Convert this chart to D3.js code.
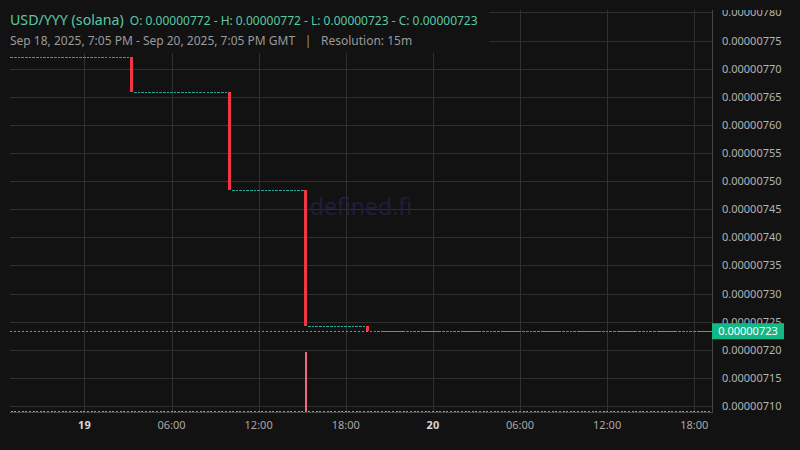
<!DOCTYPE html>
<html>
<head>
<meta charset="utf-8">
<script src="https://cdn.jsdelivr.net/npm/d3@7"></script>
<style>
  body { margin: 0; background: #121212; }
  text { font-family: "Noto Sans", sans-serif; }
</style>
</head>
<body>
<div id="chart"></div>
<script>
// prices are in units of 1e-8
const PRICE_UNIT = 1e-8;
const firstCandle = new Date(Date.UTC(2025, 8, 18, 19, 0));
const rangeStart = new Date(Date.UTC(2025, 8, 18, 19, 5));
const rangeEnd = new Date(Date.UTC(2025, 8, 20, 19, 5));
const resolutionMin = 15;

// close of each 15m candle, Sep 18 19:00 -> Sep 20 19:00
const closes = [
  772, 772, 772, 772, 772, 772, 772, 772, 772, 772, 772,
  772, 772, 772, 772, 772, 772, 772, 772, 772, 772, 772,
  772, 772, 772, 772, 772, 772, 772, 772, 772, 772, 772,
  765.8, 765.8, 765.8, 765.8, 765.8, 765.8, 765.8, 765.8, 765.8,
  765.8, 765.8, 765.8, 765.8, 765.8, 765.8, 765.8, 765.8, 765.8,
  765.8, 765.8, 765.8, 765.8, 765.8, 765.8, 765.8, 765.8, 765.8,
  748.5, 748.5, 748.5, 748.5, 748.5, 748.5, 748.5,
  748.5, 748.5, 748.5, 748.5, 748.5, 748.5, 748.5,
  748.5, 748.5, 748.5, 748.5, 748.5, 748.5, 748.5,
  724.3, 724.3, 724.3, 724.3, 724.3, 724.3, 724.3, 724.3, 724.3,
  724.3, 724.3, 724.3, 724.3, 724.3, 724.3, 724.3, 724.3,
  723.3, 723.3, 723.3, 723.3, 723.3, 723.3, 723.3, 723.3, 723.3, 723.3, 723.3, 723.3, 723.3, 723.3, 723.3, 723.3, 723.3, 723.3, 723.3,
  723.3, 723.3, 723.3, 723.3, 723.3, 723.3, 723.3, 723.3, 723.3, 723.3, 723.3, 723.3, 723.3, 723.3, 723.3, 723.3, 723.3, 723.3, 723.3,
  723.3, 723.3, 723.3, 723.3, 723.3, 723.3, 723.3, 723.3, 723.3, 723.3, 723.3, 723.3, 723.3, 723.3, 723.3, 723.3, 723.3, 723.3, 723.3,
  723.3, 723.3, 723.3, 723.3, 723.3, 723.3, 723.3, 723.3, 723.3, 723.3, 723.3, 723.3, 723.3, 723.3, 723.3, 723.3, 723.3, 723.3, 723.3,
  723.3, 723.3, 723.3, 723.3, 723.3, 723.3, 723.3, 723.3, 723.3, 723.3, 723.3, 723.3, 723.3, 723.3, 723.3, 723.3, 723.3, 723.3, 723.3
];
const firstOpen = 772;

// volume per candle (relative)
const volumes = [
  1, 1, 1, 1, 1, 1, 1, 1, 1, 1, 1, 1, 1, 1, 1, 1, 1, 1, 1, 1, 1, 1, 1, 1, 1, 1, 1, 1, 1, 1, 1, 1, 1,
  1, 1, 1, 1, 1, 1, 1, 1, 1, 1, 1, 1, 1, 1, 1, 1, 1, 1, 1, 1, 1, 1, 1, 1, 1, 1, 1,
  1, 1, 1, 1, 1, 1, 1, 1, 1, 1, 1, 1, 1, 1, 1, 1, 1, 1, 1, 1, 1,
  60, 1, 1, 1, 1, 1, 1, 1, 1, 1, 1, 1, 1, 1, 1, 1, 1,
  1, 1, 1, 1, 1, 1, 1, 1, 1, 1, 1, 1, 1, 1, 1, 1, 1, 1, 1,
  1, 1, 1, 1, 1, 1, 1, 1, 1, 1, 1, 1, 1, 1, 1, 1, 1, 1, 1,
  1, 1, 1, 1, 1, 1, 1, 1, 1, 1, 1, 1, 1, 1, 1, 1, 1, 1, 1,
  1, 1, 1, 1, 1, 1, 1, 1, 1, 1, 1, 1, 1, 1, 1, 1, 1, 1, 1,
  1, 1, 1, 1, 1, 1, 1, 1, 1, 1, 1, 1, 1, 1, 1, 1, 1, 1, 1
];

const priceTicks = [710, 715, 720, 725, 730, 735, 740, 745, 750, 755, 760, 765, 770, 775, 780];
const timeTicks = [
  new Date(Date.UTC(2025, 8, 19, 0)), new Date(Date.UTC(2025, 8, 19, 6)),
  new Date(Date.UTC(2025, 8, 19, 12)), new Date(Date.UTC(2025, 8, 19, 18)),
  new Date(Date.UTC(2025, 8, 20, 0)), new Date(Date.UTC(2025, 8, 20, 6)),
  new Date(Date.UTC(2025, 8, 20, 12)), new Date(Date.UTC(2025, 8, 20, 18))
];
const timeLabels = ["19", "06:00", "12:00", "18:00", "20", "06:00", "12:00", "18:00"];
const dayLabels = ["19", "20"];

const width = 800, height = 450;
const plot = {left: 10, right: 712, top: 10, bottom: 412};
const upColor = "#26a69a", downColor = "#f23645";

let candles = closes.map((c, i) => {
    let open = i === 0 ? firstOpen : closes[i - 1];
    return {
        time: new Date(firstCandle.getTime() + i * resolutionMin * 60000),
        open: open, close: c,
        high: Math.max(open, c), low: Math.min(open, c),
        volume: volumes[i]
    };
});

let fmt = v => (v * PRICE_UNIT).toFixed(8);

let x = d3.scaleTime().domain([rangeStart, rangeEnd]).range([13, 710]);
let y = d3.scaleLinear().domain([710, 780]).range([406, 12.4]);
let yVol = d3.scaleLinear().domain([0, 60]).range([plot.bottom, plot.bottom - 60]);

let svg = d3.select("#chart").append("svg")
    .attr("width", width)
    .attr("height", height)
    .style("display", "block");

svg.append("rect")
    .attr("width", width)
    .attr("height", height)
    .attr("fill", "#121212");

let defs = svg.append("defs");
defs.append("clipPath").attr("id", "plotClip").append("rect")
    .attr("x", plot.left).attr("y", plot.top)
    .attr("width", plot.right - plot.left).attr("height", plot.bottom - plot.top);
defs.append("clipPath").attr("id", "axisClip").append("rect")
    .attr("x", plot.right).attr("y", plot.top)
    .attr("width", width - plot.right).attr("height", plot.bottom - plot.top + 4);

// grid
let grid = svg.append("g").attr("clip-path", "url(#plotClip)");
grid.selectAll(".hgrid")
    .data(priceTicks)
    .enter().append("line")
    .attr("class", "hgrid")
    .attr("x1", plot.left).attr("x2", plot.right)
    .attr("y1", d => Math.round(y(d)) + 0.5).attr("y2", d => Math.round(y(d)) + 0.5)
    .attr("stroke", "#303030");
grid.selectAll(".vgrid")
    .data(timeTicks)
    .enter().append("line")
    .attr("class", "vgrid")
    .attr("y1", plot.top).attr("y2", plot.bottom)
    .attr("x1", d => Math.round(x(d)) + 0.5).attr("x2", d => Math.round(x(d)) + 0.5)
    .attr("stroke", "#303030");

// watermark
svg.append("text")
    .attr("x", 361).attr("y", 215)
    .attr("text-anchor", "middle")
    .attr("font-size", 23)
    .attr("fill", "#1e1e3c")
    .text("defined.fi");

let marks = svg.append("g").attr("clip-path", "url(#plotClip)");

// volume
marks.selectAll(".vol")
    .data(candles)
    .enter().append("rect")
    .attr("class", "vol")
    .attr("x", d => x(d.time) - 1)
    .attr("width", 2)
    .attr("y", d => yVol(d.volume))
    .attr("height", d => plot.bottom - yVol(d.volume))
    .attr("fill", d => d.close < d.open ? "#f26880" : "#3fbfa5")
    .attr("shape-rendering", "crispEdges");

// last price line
let last = candles[candles.length - 1].close;
marks.append("line")
    .attr("x1", plot.left).attr("x2", plot.right)
    .attr("y1", Math.round(y(last)) + 0.5).attr("y2", Math.round(y(last)) + 0.5)
    .attr("stroke", "#1abc9c")
    .attr("stroke-dasharray", "2,2");

// candles (flat candles are drawn as a 1px tick)
marks.selectAll(".candle")
    .data(candles)
    .enter().append("rect")
    .attr("class", "candle")
    .attr("x", d => x(d.time) - (d.open === d.close ? 1.3 : 1.5))
    .attr("width", d => d.open === d.close ? 2.6 : 3)
    .attr("y", d => d.open === d.close ? Math.round(y(d.close)) : y(d.high))
    .attr("height", d => d.open === d.close ? 1 : y(d.low) - y(d.high))
    .attr("fill", d => d.close < d.open ? downColor : upColor)
    .attr("shape-rendering", "crispEdges");

// frame
svg.append("line")
    .attr("x1", plot.right + 0.5).attr("x2", plot.right + 0.5)
    .attr("y1", plot.top).attr("y2", plot.bottom + 1)
    .attr("stroke", "#454545");
svg.append("line")
    .attr("x1", plot.left).attr("x2", plot.right)
    .attr("y1", plot.bottom + 0.5).attr("y2", plot.bottom + 0.5)
    .attr("stroke", "#454545");

// price axis labels
let axis = svg.append("g").attr("clip-path", "url(#axisClip)");
axis.selectAll(".plabel")
    .data(priceTicks)
    .enter().append("text")
    .attr("class", "plabel")
    .attr("x", 722)
    .attr("y", d => y(d) + 4)
    .attr("font-size", 11)
    .attr("fill", "#b4b4b4")
    .text(d => fmt(d));

// last price tag
axis.append("rect")
    .attr("x", plot.right).attr("y", y(last) - 8)
    .attr("width", 72).attr("height", 16)
    .attr("fill", "#12b886");
axis.append("text")
    .attr("x", 748).attr("y", y(last) + 4)
    .attr("text-anchor", "middle")
    .attr("font-size", 11)
    .attr("fill", "#ffffff")
    .text(fmt(last));

// time axis labels
svg.selectAll(".tlabel")
    .data(timeTicks)
    .enter().append("text")
    .attr("class", "tlabel")
    .attr("x", d => x(d))
    .attr("y", 429)
    .attr("text-anchor", "middle")
    .attr("font-size", 11)
    .attr("font-weight", (d, i) => dayLabels.includes(timeLabels[i]) ? "bold" : "normal")
    .attr("fill", (d, i) => dayLabels.includes(timeLabels[i]) ? "#d8d8d8" : "#a8a8a8")
    .text((d, i) => timeLabels[i]);

// header
svg.append("rect")
    .attr("width", 489).attr("height", 53)
    .attr("fill", "#121212");

let o = candles[0].open, h = d3.max(candles, d => d.high),
    l = d3.min(candles, d => d.low), c = last;
let title = svg.append("text").attr("x", 10).attr("y", 25).attr("fill", "#5cc8a6");
title.append("tspan").attr("font-size", 14.2).text("USD/YYY (solana)");
title.append("tspan").attr("dx", 6).attr("font-size", 12)
    .text("O: " + fmt(o) + " - H: " + fmt(h) + " - L: " + fmt(l) + " - C: " + fmt(c));

svg.append("text").attr("x", 10).attr("y", 45).attr("font-size", 12).attr("fill", "#9a9a9a")
    .text("Sep 18, 2025, 7:05 PM - Sep 20, 2025, 7:05 PM GMT");
svg.append("text").attr("x", 308).attr("y", 45).attr("font-size", 12).attr("fill", "#9a9a9a")
    .attr("text-anchor", "middle").text("|");
svg.append("text").attr("x", 321).attr("y", 45).attr("font-size", 12).attr("fill", "#9a9a9a")
    .text("Resolution: 15m");
</script>
</body>
</html>
